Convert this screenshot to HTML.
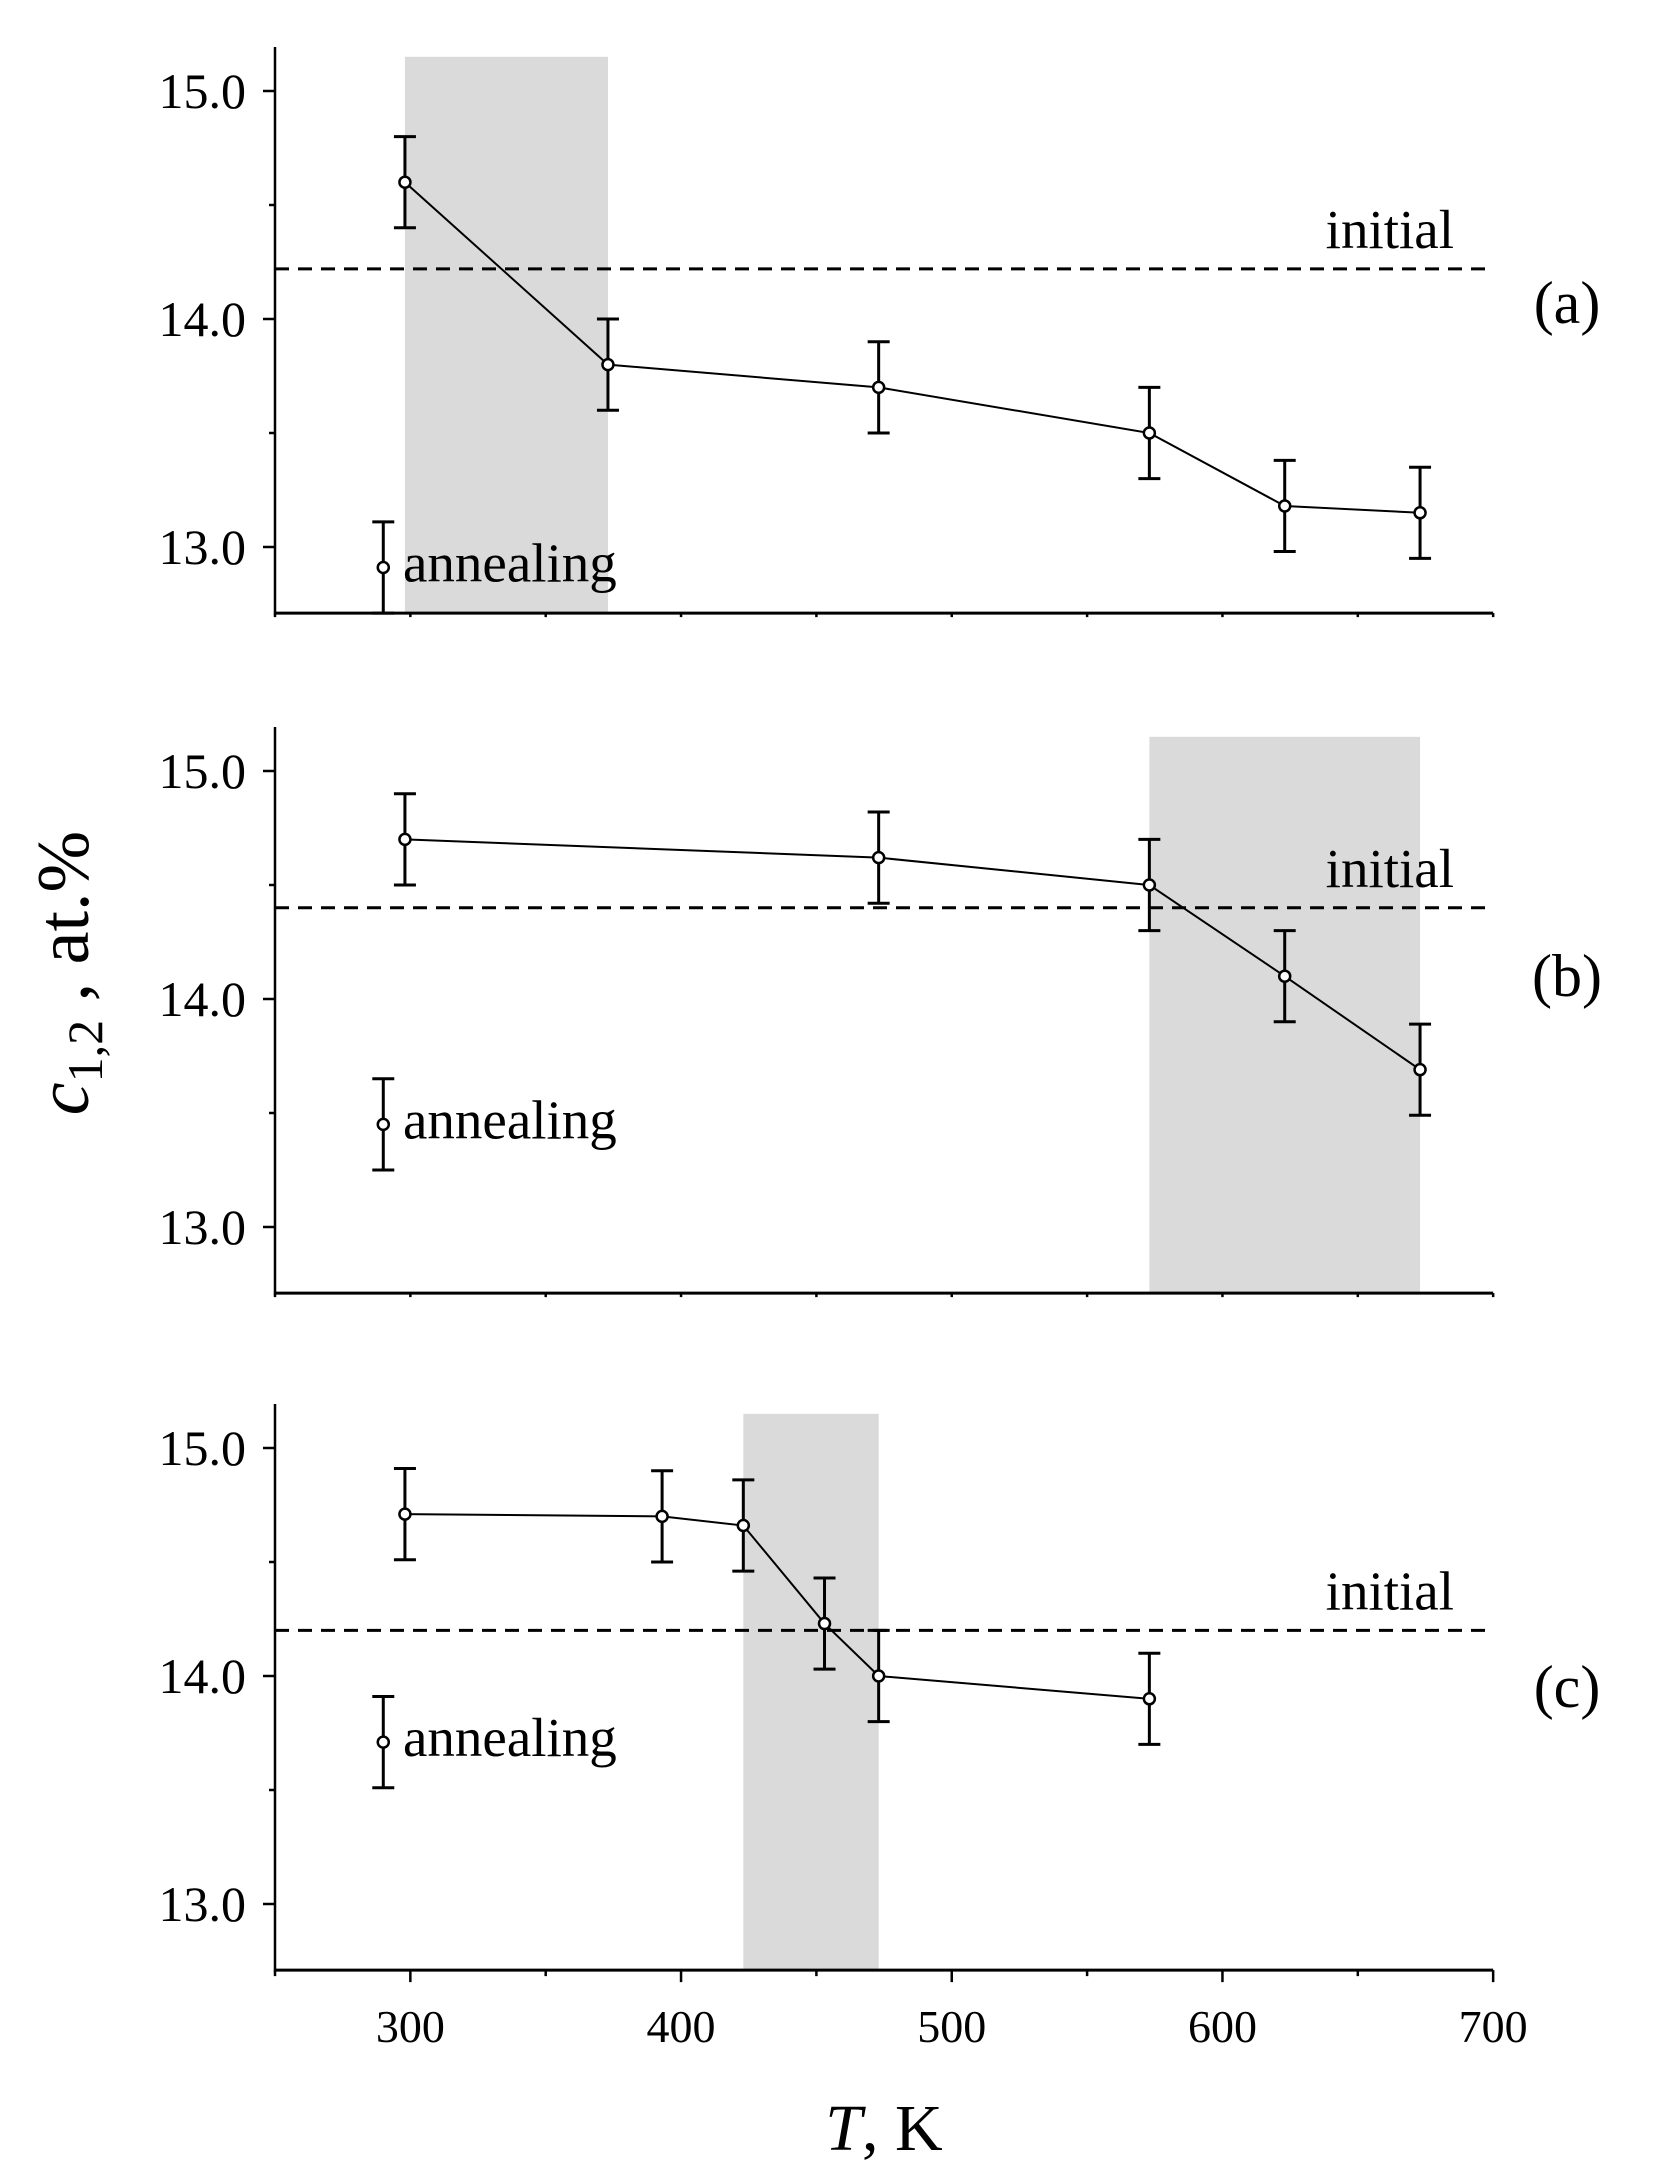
<!DOCTYPE html>
<html><head><meta charset="utf-8"><style>
body{margin:0;background:#fff}
svg{display:block;font-family:"Liberation Serif",serif}
</style></head><body>
<svg id="chart" width="1672" height="2174" xmlns="http://www.w3.org/2000/svg"></svg>
<script>
const panelLabels=["(a)","(b)","(c)"];
const panelLabelV=[14.08,14.11,13.96];
const tA=[298,373,473,573,623,673];
const cA=[14.6,13.8,13.7,13.5,13.18,13.15];
const tB=[298,473,573,623,673];
const cB=[14.7,14.62,14.5,14.1,13.69];
const tC=[298,393,423,453,473,573];
const cC=[14.71,14.7,14.66,14.23,14.0,13.9];
const errBar=0.2;
const initialVals=[14.22,14.4,14.2];
const annealVals=[12.91,13.45,13.71];
const annealT=290;
const shadeRanges=[[298,373],[573,673],[423,473]];
const yTicks=[13.0,14.0,15.0];
const xTicks=[300,400,500,600,700];

const svg=document.getElementById('chart');
const NS='http://www.w3.org/2000/svg';
function mk(tag,attrs,parent){const e=document.createElementNS(NS,tag);for(const k in attrs)e.setAttribute(k,attrs[k]);(parent||svg).appendChild(e);return e;}
const X=t=>275+(t-250)*2.707;
const y15=[91,771,1448];
const Yf=p=>v=>y15[p]+(15-v)*228;
const series=[[tA,cA],[tB,cB],[tC,cC]];

for(let p=0;p<3;p++){
  const Y=Yf(p);
  const g=mk('g',{});
  
  
  const top=y15[p]-44, bot=Y(12.71);
  const sh=mk('rect',{x:X(shadeRanges[p][0]),y:Y(15.15),width:X(shadeRanges[p][1])-X(shadeRanges[p][0]),height:bot-Y(15.15),fill:'#dadada'},g);
  
  
  mk('line',{x1:275,y1:top,x2:275,y2:bot+2,stroke:'#000','stroke-width':2.5},g);
  const xa=mk('line',{x1:274,y1:bot,x2:X(700),y2:bot,stroke:'#000','stroke-width':3},g);
  
  
  for(let v=13;v<=15.001;v+=0.5){
    const maj=Math.abs(v-Math.round(v))<0.01;
    mk('line',{x1:maj?263:269,y1:Y(v),x2:275,y2:Y(v),stroke:'#000','stroke-width':2.5},g);
  }
  yTicks.forEach(v=>{const t=mk('text',{x:246,y:Y(v)+17,'font-size':50,'text-anchor':'end'},g);t.textContent=v.toFixed(1);
    
    });
  for(let t=250;t<=700;t+=50){
    const maj=t%100==0;
    mk('line',{x1:X(t),y1:bot,x2:X(t),y2:bot+(p==2?(maj?12:6):4),stroke:'#000','stroke-width':2.5},g);
  }
  const dl=mk('line',{x1:275,y1:Y(initialVals[p]),x2:X(700),y2:Y(initialVals[p]),stroke:'#000','stroke-width':3,'stroke-dasharray':'14,9'},g);
  
  
  const it=mk('text',{x:1454,y:Y(initialVals[p])-21,'font-size':55,'text-anchor':'end'},g);it.textContent='initial';
  
  
  const pl=mk('text',{x:1567,y:Y(panelLabelV[p])+22,'font-size':60,'text-anchor':'middle'},g);pl.textContent=panelLabels[p];
  
  
  const [ts,cs]=series[p];
  const pts=ts.map((t,i)=>X(t)+','+Y(cs[i])).join(' ');
  const ln=mk('polyline',{points:pts,fill:'none',stroke:'#000','stroke-width':2},g);
  
  
  const drawPt=(t,v,name)=>{
    const x=X(t);
    mk('line',{x1:x,y1:Y(v+errBar),x2:x,y2:Y(v-errBar),stroke:'#000','stroke-width':3},g);
    mk('line',{x1:x-11,y1:Y(v+errBar),x2:x+11,y2:Y(v+errBar),stroke:'#000','stroke-width':3},g);
    mk('line',{x1:x-11,y1:Y(v-errBar),x2:x+11,y2:Y(v-errBar),stroke:'#000','stroke-width':3},g);
    const c=mk('circle',{cx:x,cy:Y(v),r:5.5,fill:'#fff',stroke:'#000','stroke-width':2.5},g);
    
    
  };
  ts.forEach((t,i)=>drawPt(t,cs[i],'data-point'));
  drawPt(annealT,annealVals[p],'legend-marker');
  const at=mk('text',{x:403,y:Y(annealVals[p])+14,'font-size':55},g);at.textContent='annealing';
  
  
}
const Yc=Yf(2), botC=Yc(12.71);
xTicks.forEach(t=>{const e=mk('text',{x:X(t),y:botC+72,'font-size':46,'text-anchor':'middle'});e.textContent=t;
  
  });
const xt=mk('text',{x:884,y:2150,'font-size':66,'text-anchor':'middle'});
xt.innerHTML='<tspan font-style="italic">T</tspan>, K';


const yt=mk('text',{x:0,y:0,'font-size':74,'text-anchor':'middle',transform:'translate(88,973) rotate(-90)'});
yt.innerHTML='<tspan font-style="italic">c</tspan><tspan font-size="50" dy="14">1,2</tspan><tspan dy="-14"> , at.%</tspan>';


</script>
</body></html>
